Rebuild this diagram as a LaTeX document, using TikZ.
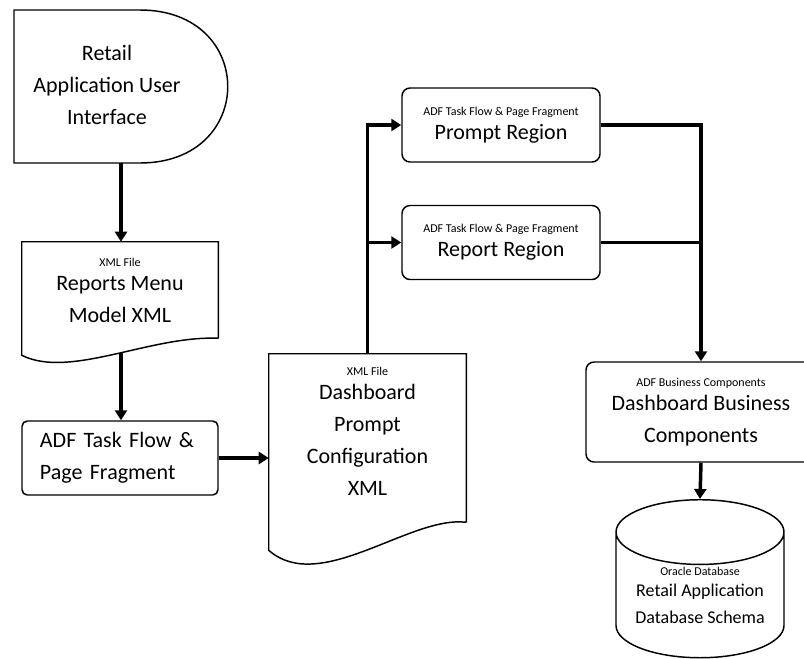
\documentclass[tikz,border=0pt]{standalone}
\usepackage{fontspec}
\setmainfont{Carlito}
\usetikzlibrary{arrows.meta,shapes.geometric,calc}
\newcommand{\tinylbl}[1]{{\fontsize{9}{10}\selectfont #1}}

\begin{document}
\begin{tikzpicture}[x=0.75pt,y=-0.75pt,
  font=\fontsize{16.5}{24}\selectfont,
  outline/.style={draw,line width=1.1pt},
  docbox/.style={minimum width=147pt,inner sep=0pt,align=center},
  flowbox/.style={outline,rounded corners=4pt,minimum width=147pt,minimum height=55.5pt,align=left,text width=120pt,inner xsep=13.5pt},
  regionbox/.style={outline,rounded corners=6pt,minimum width=148.5pt,minimum height=55.5pt,align=center,inner sep=0pt},
  dbcyl/.style={outline,cylinder,shape border rotate=90,aspect=0.5,minimum width=126pt,minimum height=118.5pt,align=center,inner sep=0pt,font=\fontsize{13.5}{20}\selectfont},
  down/.style={-{Triangle[length=7.5pt,width=9pt]},line width=2.6pt},
  feedline/.style={line width=2.6pt}]
\useasboundingbox (0,0) rectangle (804,658);
\clip (0,0) rectangle (804,658);
% user interface
\node[align=center] (ui) at (107,85) {Retail\\Application User\\Interface};
\draw[outline] (14,10) -- (140,10) .. controls (257,10) and (257,163) .. (140,163) -- (14,163) -- cycle;
\coordinate (uiS) at (121,163);
% reports menu model
\node[docbox,minimum height=72pt] (menu) at (120,290) {\tinylbl{XML File}\\[-6pt]Reports Menu\\Model XML};
\draw[outline] (menu.south east) -- (menu.north east) -- (menu.north west) -- ($(menu.south west)+(0,17)$)
  .. controls ($(menu.south west)+(48,41)$) and ($(menu.south east)+(-68,-3)$) .. (menu.south east);
\coordinate (menuS) at ($(menu.south)+(1,15)$);
\node[flowbox] (flow) at (120,458) {ADF Task Flow \&\\Page Fragment};
% dashboard prompt configuration
\node[docbox,minimum width=147.75pt,minimum height=126pt] (dash) at (367.5,438) {};
\node[align=center] (dashtxt) at (367.5,431) {\tinylbl{XML File}\\[-6pt]Dashboard\\Prompt\\Configuration\\XML};
\draw[outline] (dash.south east) -- (dash.north east) -- (dash.north west) -- ($(dash.south west)+(0,28)$)
  .. controls ($(dash.south west)+(51,73)$) and ($(dash.south east)+(-56,-7)$) .. (dash.south east);
% regions
\node[regionbox] (prompt) at (501,125) {\tinylbl{ADF Task Flow \& Page Fragment}\\[-6pt]Prompt Region};
\node[regionbox] (report) at (501,242.5) {\tinylbl{ADF Task Flow \& Page Fragment}\\[-6pt]Report Region};
\node[regionbox,minimum width=172.5pt,minimum height=75pt] (bc) at (701,412) {\tinylbl{ADF Business Components}\\[-6pt]Dashboard Business\\Components};
\node[dbcyl,anchor=north] (db) at (700,499) {\tinylbl{Oracle Database}\\[-4pt]Retail Application\\Database Schema};
% connectors
\draw[down] (uiS) -- (uiS |- menu.north);
\draw[down] (menuS) -- (menuS |- flow.north);
\draw[down] (flow.east) -- (flow.east -| dash.west);
\draw[down] (dash.north) |- (prompt.west);
\draw[down] (dash.north |- report.west) -- (report.west);
\draw[down] (prompt.east) -| (bc.north);
\draw[feedline] (report.east) -- (report.east -| bc.north);
\draw[down] (bc.south) -- (db.north);
\end{tikzpicture}
\end{document}
